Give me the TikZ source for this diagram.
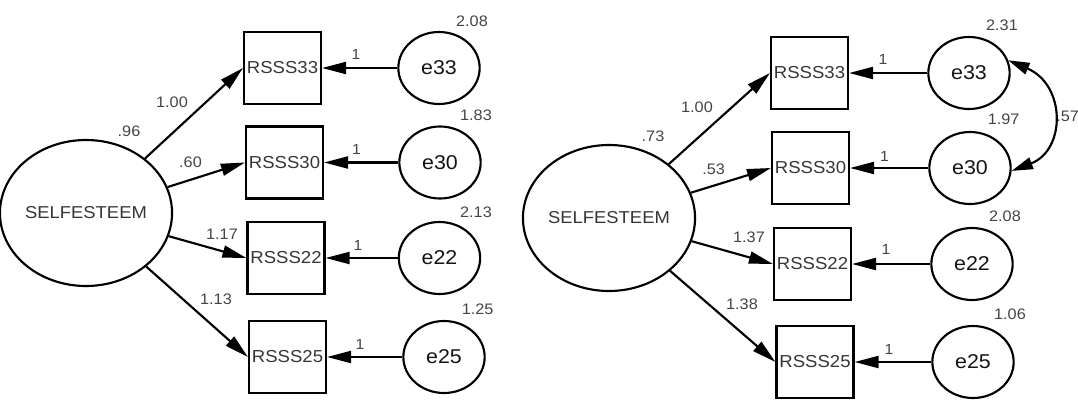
\documentclass[tikz,border=0pt]{standalone}
\usepackage{fontspec}
\setmainfont{Liberation Sans}[FakeStretch=1.07]
\usetikzlibrary{arrows.meta,shapes.geometric}
\definecolor{lbl}{HTML}{444444}
\definecolor{boxtxt}{HTML}{363636}
\definecolor{ink}{HTML}{141414}
\begin{document}
\begin{tikzpicture}[x=0.75pt,y=-0.75pt,
  every node/.style={inner sep=0pt},
  obs/.style={draw, rectangle, line width=1.6pt, minimum width=57.75pt, minimum height=54pt,
    text=boxtxt, font=\fontsize{13}{15}\selectfont},
  err/.style={draw, ellipse, line width=1.6pt, minimum width=61pt, minimum height=54pt,
    text=ink, font=\fontsize{15}{17}\selectfont},
  lat/.style={draw, ellipse, line width=1.6pt, minimum width=116.5pt, minimum height=109.5pt,
    text=boxtxt, font=\fontsize{12.9}{14}\selectfont},
  est/.style={text=lbl, font=\fontsize{11.4}{13}\selectfont},
  unitlbl/.style={text=lbl, font=\fontsize{11}{12}\selectfont},
  load/.style={line width=1.6pt, -{Triangle[length=18pt,width=9pt]}},
  cov/.style={line width=1.6pt, {Triangle[length=16pt,width=9pt]}-{Triangle[length=16pt,width=9pt]}},
]
\useasboundingbox (0,0) rectangle (1078,400);

% ---------- first model ----------
\node[lat] (sL) at (86,213) {SELFESTEEM};
\node[obs] (L33) at (282.5,68) {RSSS33};
\node[obs] (L30) at (284.5,162.5) {RSSS30};
\node[obs] (L22) at (286,258) {RSSS22};
\node[obs] (L25) at (287.5,357) {RSSS25};
\node[err] (eL33) at (439,68) {e33};
\node[err] (eL30) at (440,162.5) {e30};
\node[err] (eL22) at (439.5,258) {e22};
\node[err] (eL25) at (444,357) {e25};

\draw[load] (sL) -- (L33.west);
\draw[load] (sL) -- (L30.west);
\draw[load] (sL) -- (L22.west);
\draw[load] (sL) -- (L25.west);
\draw[load] (eL33) -- (L33);
\draw[load] (eL30) -- (L30);
\draw[load] (eL22) -- (L22);
\draw[load] (eL25) -- (L25);

\node[est] at (129,131) {.96};
\node[est] at (172,102) {1.00};
\node[est] at (190.5,162.5) {.60};
\node[est] at (222,234) {1.17};
\node[est] at (216,299) {1.13};
\node[est] at (472,21) {2.08};
\node[est] at (476,115.5) {1.83};
\node[est] at (476,212) {2.13};
\node[est] at (477.6,309) {1.25};
\node[unitlbl] at (356,54) {1};
\node[unitlbl] at (356.5,149) {1};
\node[unitlbl] at (358,245) {1};
\node[unitlbl] at (360,344) {1};

% ---------- second model ----------
\node[lat] (sR) at (609,218) {SELFESTEEM};
\node[obs] (R33) at (809.5,73) {RSSS33};
\node[obs] (R30) at (810.5,168) {RSSS30};
\node[obs] (R22) at (812.5,264) {RSSS22};
\node[obs] (R25) at (815,362) {RSSS25};
\node[err] (eR33) at (969,73) {e33};
\node[err] (eR30) at (970,168) {e30};
\node[err] (eR22) at (972,264) {e22};
\node[err] (eR25) at (973,362) {e25};

\draw[load] (sR) -- (R33.west);
\draw[load] (sR) -- (R30.west);
\draw[load] (sR) -- (R22.west);
\draw[load] (sR) -- (R25.west);
\draw[load] (eR33) -- (R33);
\draw[load] (eR30) -- (R30);
\draw[load] (eR22) -- (R22);
\draw[load] (eR25) -- (R25);
\draw[cov] (eR33.18) .. controls (1066,85) and (1066,150) .. (eR30.-4);

\node[est] at (653,136) {.73};
\node[est] at (697,107) {1.00};
\node[est] at (713.6,169) {.53};
\node[est] at (749,237) {1.37};
\node[est] at (742,304) {1.38};
\node[est] at (1002,25) {2.31};
\node[est] at (1003.6,119) {1.97};
\node[est, anchor=west] at (1056,116) {.57};
\node[est] at (1005,216) {2.08};
\node[est] at (1010,314) {1.06};
\node[unitlbl] at (883,59) {1};
\node[unitlbl] at (884.6,156) {1};
\node[unitlbl] at (886,249) {1};
\node[unitlbl] at (889,349) {1};
\end{tikzpicture}
\end{document}
